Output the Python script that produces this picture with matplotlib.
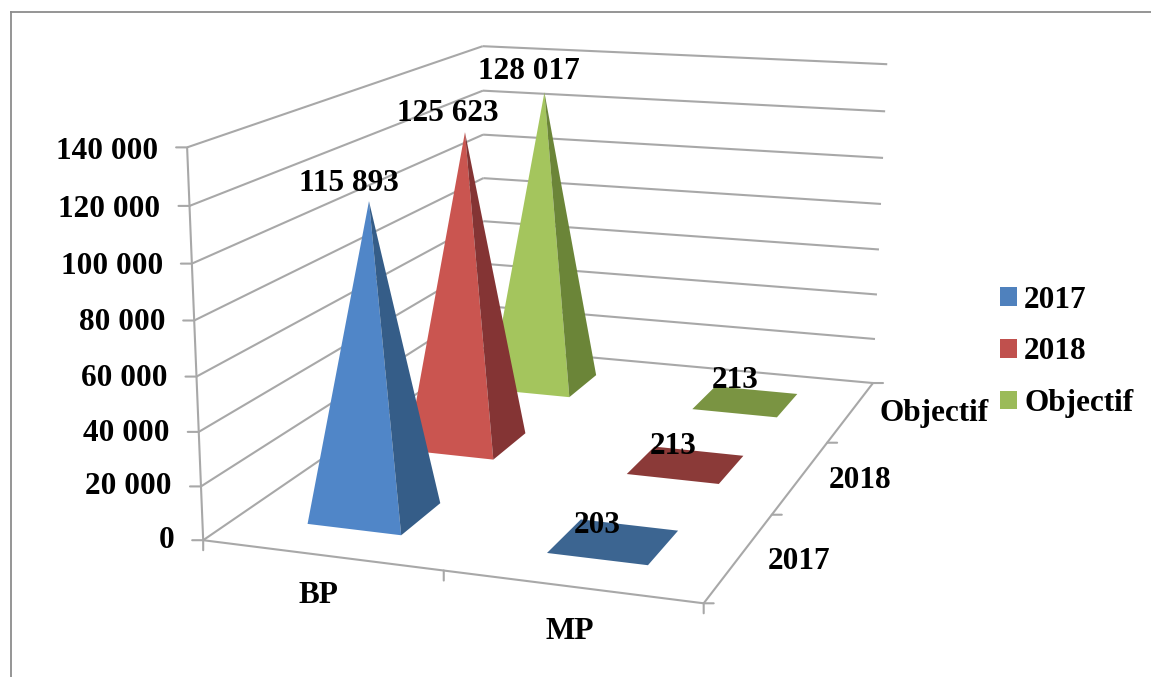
import numpy as np
import matplotlib
matplotlib.use('Agg')
import matplotlib.pyplot as plt
from matplotlib.lines import Line2D
from matplotlib.patches import Patch
from mpl_toolkits.mplot3d import proj3d
from mpl_toolkits.mplot3d.art3d import Line3DCollection, Poly3DCollection

plt.rcParams['font.family'] = ['Liberation Serif', 'DejaVu Serif']
plt.rcParams['font.weight'] = 'bold'

# data
categories = ['BP', 'MP']
series_names = ['2017', '2018', 'Objectif']
values_2017 = [115893, 203]
values_2018 = [125623, 213]
values_objectif = [128017, 213]
value_labels_2017 = ['115 893', '203']
value_labels_2018 = ['125 623', '213']
value_labels_objectif = ['128 017', '213']
value_ticks = [0, 20000, 40000, 60000, 80000, 100000, 120000, 140000]
value_tick_labels = ['0', '20 000', '40 000', '60 000', '80 000', '100 000', '120 000', '140 000']

# colours: front face, side face, flat top, legend
front_colors = ['#5086c8', '#ca5550', '#a4c55d']
side_colors = ['#355d88', '#843434', '#6b8538']
flat_colors = ['#3c6591', '#8b3a38', '#7a9442']
legend_colors = ['#4f81bd', '#c0504d', '#9bbb59']
GRID = '#a8a8a8'
FONT = 22.5
ZMAX = 140000.0

# camera: solve a 3x4 matrix from the corners of the plot box
box = [(0, 0, 0), (0, 0, 1), (0, 3, 1), (0, 3, 0), (2, 3, 1), (2, 3, 0), (2, 0, 0)]
screen = [(203, 538), (187, 148), (483, 45), (484, 350), (887, 65), (873, 381), (704, 605)]
rows = []
for (bx, by, bz), (u, v) in zip(box, screen):
    rows.append([bx, by, bz, 1, 0, 0, 0, 0, -u*bx, -u*by, -u*bz, -u])
    rows.append([0, 0, 0, 0, bx, by, bz, 1, -v*bx, -v*by, -v*bz, -v])
P = np.linalg.svd(np.array(rows, dtype=float))[2][-1].reshape(3, 4)
P[:, 2] /= ZMAX
M = np.array([P[0], P[1], [0, 1, 0, 0], P[2]])

fig = plt.figure(figsize=(11.51, 6.77), dpi=100)
ax = fig.add_axes([0, 0, 1, 1], projection='3d', computed_zorder=False)
ax.get_proj = lambda: M
ax.apply_aspect = lambda position=None: None
ax.set_axis_off()
ax.viewLim.intervalx = (0, 1151)
ax.viewLim.intervaly = (677, 0)


def label(pos, s, dx, dy, ha='center', z=10):
    tx, ty, _ = proj3d.proj_transform(pos[0], pos[1], pos[2], M)
    ax.annotate(s, xy=(tx, ty), xytext=(dx, dy), textcoords='offset pixels',
                ha=ha, va='center', fontsize=FONT, fontweight='bold', color='black',
                zorder=z, annotation_clip=False)


def tick(pos, dx, dy):
    tx, ty, _ = proj3d.proj_transform(pos[0], pos[1], pos[2], M)
    ax.annotate('', xy=(tx, ty), xytext=(dx, dy), textcoords='offset pixels',
                arrowprops=dict(arrowstyle='-', color=GRID, lw=1.5, shrinkA=0, shrinkB=0))


# walls and floor
segments = []
for v in value_ticks:
    segments.append([(0, 0, v), (0, 3, v)])
    segments.append([(0, 3, v), (2, 3, v)])
segments.append([(0, 0, 0), (0, 0, ZMAX)])
segments.append([(0, 0, 0), (2, 0, 0)])
segments.append([(2, 0, 0), (2, 3, 0)])
ax.add_collection3d(Line3DCollection(segments, colors=GRID, linewidths=1.5, zorder=1))

# tick marks and axis labels
for v, s in zip(value_ticks, value_tick_labels):
    tick((0, 0, v), -11, 0)
    label((0, 0, v), s, -29, -4 * v / ZMAX, ha='right')
for i in range(3):
    tick((i, 0, 0), 0, -10)
for i in range(4):
    tick((2, i, 0), 10, 0)

label((0.5, 0, 0), categories[0], -3, -40)
label((1.5, 0, 0), categories[1], -1, -45)
depth_offsets = [(59, -5), (59, -4), (83, -2)]
for i, s in enumerate(series_names):
    off = depth_offsets[i]
    label((2, i + 0.5, 0), s, off[0], off[1])

# pyramids, far row first so the near ones cover them
WIDTH = 0.2
all_values = [values_2017, values_2018, values_objectif]
all_labels = [value_labels_2017, value_labels_2018, value_labels_objectif]
text_offsets = [[(-20, 18), (-16, 16)], [(-17, 19), (-13, 18)], [(-16, 21), (-10, 20)]]
for s in [2, 1, 0]:
    for c in range(2):
        x, y, val = c + 0.5, s + 0.5, all_values[s][c]
        fl = (x - WIDTH, y - WIDTH, 0)
        fr = (x + WIDTH, y - WIDTH, 0)
        br = (x + WIDTH, y + WIDTH, 0)
        bl = (x - WIDTH, y + WIDTH, 0)
        apex = (x, y, val)
        z = 5 - s * 0.5
        if val < 1000:
            # almost no height: only the flattened base shows
            ax.add_collection3d(Poly3DCollection([[fl, fr, br, bl]], facecolors=flat_colors[s],
                                                 edgecolors='none', zorder=z))
        else:
            ax.add_collection3d(Poly3DCollection([[fl, fr, apex]], facecolors=front_colors[s],
                                                 edgecolors='none', zorder=z))
            ax.add_collection3d(Poly3DCollection([[fr, br, apex]], facecolors=side_colors[s],
                                                 edgecolors='none', zorder=z))
        off = text_offsets[s][c]
        label(apex, all_labels[s][c], off[0], off[1])

# legend
handles = [Patch(facecolor=col, edgecolor='none') for col in legend_colors]
ax.legend(handles, series_names, loc='upper left', bbox_to_anchor=(1000 / 1151, 1 - 285.5 / 677),
          frameon=False, fontsize=FONT, handlelength=0.55, handleheight=0.55,
          handletextpad=0.22, labelspacing=0.73, borderpad=0, borderaxespad=0)

# outer border on the top and left
for xs, ys in [((11, 1151), (12, 12)), ((11, 11), (12, 677))]:
    fig.add_artist(Line2D([a / 1151 for a in xs], [1 - b / 677 for b in ys],
                          color='#8c8c8c', lw=1.3, transform=fig.transFigure))

fig.savefig('out.png', dpi=100)
